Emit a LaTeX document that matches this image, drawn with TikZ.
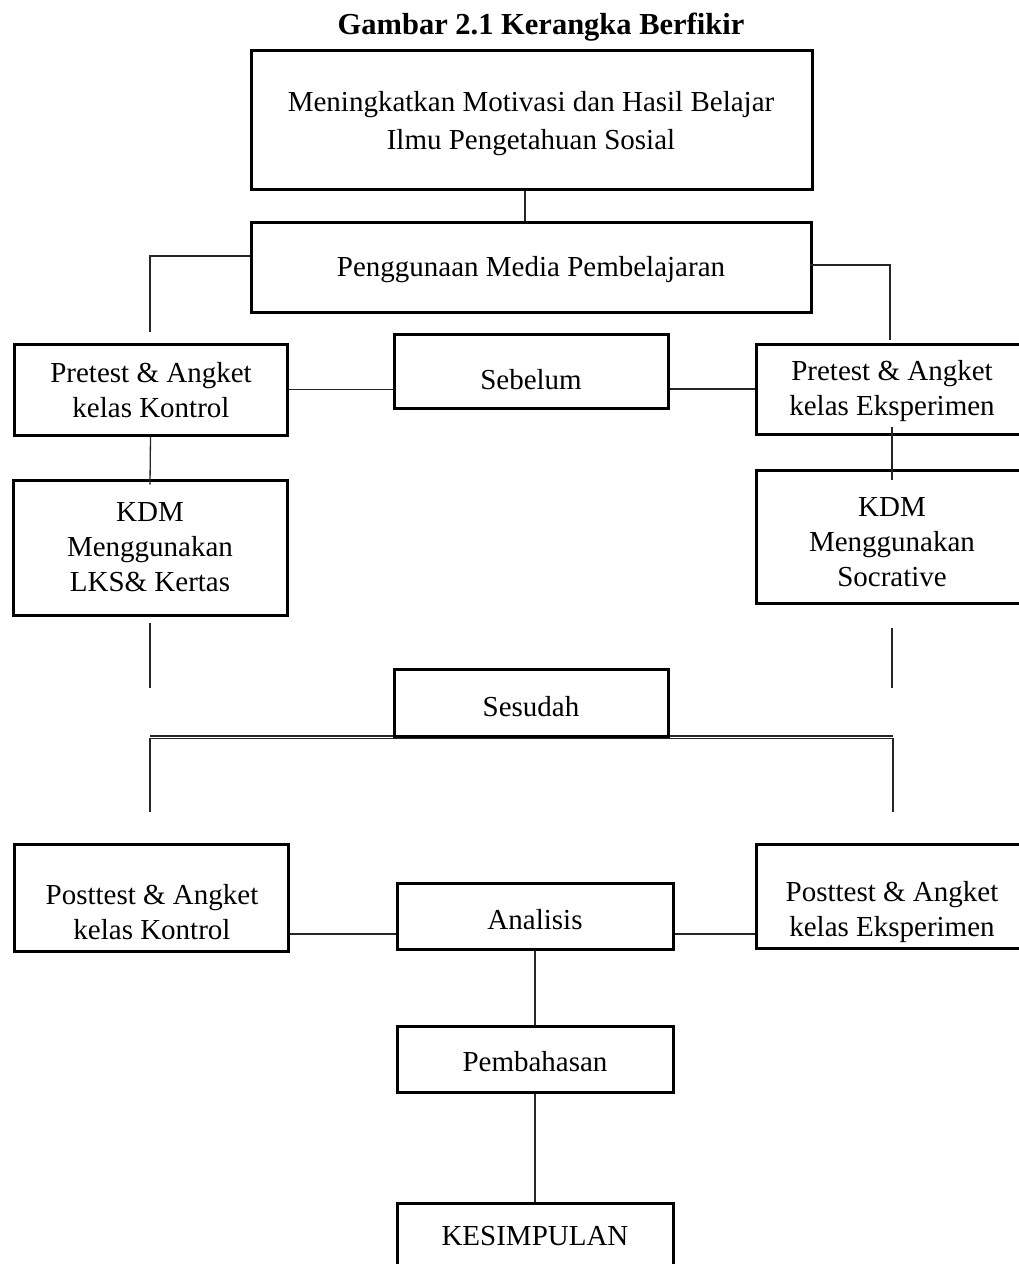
\documentclass[tikz,border=0pt]{standalone}
\usepackage{fontspec}
\setmainfont{Liberation Serif}
\begin{document}
\begin{tikzpicture}[x=1pt,y=-1pt,
  box/.style={draw, line width=3pt, inner sep=0pt, fill=white},
  txt/.style={align=center, inner sep=0pt, font=\fontsize{29}{35}\selectfont},
  conn/.style={line width=1.3pt, draw=black!85}]
\useasboundingbox (0,0) rectangle (1019,1264);
\clip (0,0) rectangle (1019,1264);
\fill[white] (0,0) rectangle (1019,1264);

% title
\node[inner sep=0pt, font=\fontsize{30.5}{36}\selectfont\bfseries] (title) at (541,27) {Gambar 2.1 Kerangka Berfikir};

% coordinates for free ends
\coordinate (lk) at (150,332);
\coordinate (rk) at (890,340);
\coordinate (lu1) at (150,623);
\coordinate (lu2) at (150,688);
\coordinate (ru1) at (892,628);
\coordinate (ru2) at (892,688);
\coordinate (dl) at (150,736);
\coordinate (dr) at (893,736);
\coordinate (ld) at (150,812);
\coordinate (rd) at (893,812);

% connectors drawn first (boxes on top)
\draw[conn] (dl) -- (dr);
\draw[conn] ([yshift=-2.5pt]dl) -- ([yshift=-2.5pt]dr);
\draw[conn] ([yshift=-1.5pt]dl) -- (ld);
\draw[conn] ([yshift=-1.5pt]dr) -- (rd);
\draw[conn] (lu1) -- (lu2);
\draw[conn] (ru1) -- (ru2);

% boxes
\node[box, minimum width=561pt, minimum height=139pt] (top) at (531.5,119.5) {};
\node[box, minimum width=560pt, minimum height=90pt] (pen) at (531,267) {};
\node[box, minimum width=273pt, minimum height=91pt] (prek) at (150.5,389.5) {};
\node[box, minimum width=274pt, minimum height=74pt] (seb) at (531,371) {};
\node[box, minimum width=272pt, minimum height=90pt] (pree) at (892,389) {};
\node[box, minimum width=274pt, minimum height=135pt] (kdmk) at (150,547.5) {};
\node[box, minimum width=272pt, minimum height=133pt] (kdme) at (892,536.5) {};
\node[box, minimum width=274pt, minimum height=67pt] (ses) at (531,702.5) {};
\node[box, minimum width=274pt, minimum height=107pt] (postk) at (151,897.5) {};
\node[box, minimum width=276pt, minimum height=66pt] (ana) at (535,916) {};
\node[box, minimum width=272pt, minimum height=104pt] (poste) at (892,896) {};
\node[box, minimum width=276pt, minimum height=66pt] (pem) at (535,1059) {};
\node[box, minimum width=276pt, minimum height=90pt] (kes) at (535,1248) {};

% texts
\node[txt, font=\fontsize{29}{38}\selectfont] (topt) at (531,124) {Meningkatkan Motivasi dan Hasil Belajar\\Ilmu Pengetahuan Sosial};
\node[txt] (pent) at (531,270) {Penggunaan Media Pembelajaran};
\node[txt] (prekt) at (151,390.5) {Pretest \& Angket\\kelas Kontrol};
\node[txt] (sebt) at (531,380) {Sebelum};
\node[txt] (preet) at (892,391) {Pretest \& Angket\\kelas Eksperimen};
\node[txt] (kdmkt) at (150,547) {KDM\\Menggunakan\\LKS\& Kertas};
\node[txt] (kdmet) at (892,542) {KDM\\Menggunakan\\Socrative};
\node[txt] (sest) at (531,707) {Sesudah};
\node[txt] (postkt) at (152,912) {Posttest \& Angket\\kelas Kontrol};
\node[txt] (anat) at (535,920) {Analisis};
\node[txt] (postet) at (892,912) {Posttest \& Angket\\kelas Eksperimen};
\node[txt] (pemt) at (535,1062) {Pembahasan};
\node[txt] (kest) at (535,1236) {KESIMPULAN};

% connectors between boxes
\draw[conn] ([xshift=-6.5pt]top.south) -- ([xshift=-6.5pt]top.south |- pen.north);
\draw[conn] ([yshift=11pt]pen.west) -| (lk);
\draw[conn] ([xshift=-3pt,yshift=2pt]pen.east) -| (rk);
\draw[conn] (prek.east) -- (prek.east -| seb.west);
\draw[conn] (seb.east |- pree.west) -- (pree.west);
\draw[conn] (prek.south) -- ([yshift=-6pt]kdmk.north);
\draw[conn] ([yshift=9pt]pree.south) -- ([yshift=-11pt]kdme.north);
\draw[conn] ([yshift=-36.5pt]postk.east) -- ([yshift=-36.5pt]postk.east -| ana.west);
\draw[conn] (ana.east |- 0,934) -- (poste.west |- 0,934);
\draw[conn] (ana.south) -- (pem.north);
\draw[conn] (pem.south) -- (kes.north);
\end{tikzpicture}
\end{document}
